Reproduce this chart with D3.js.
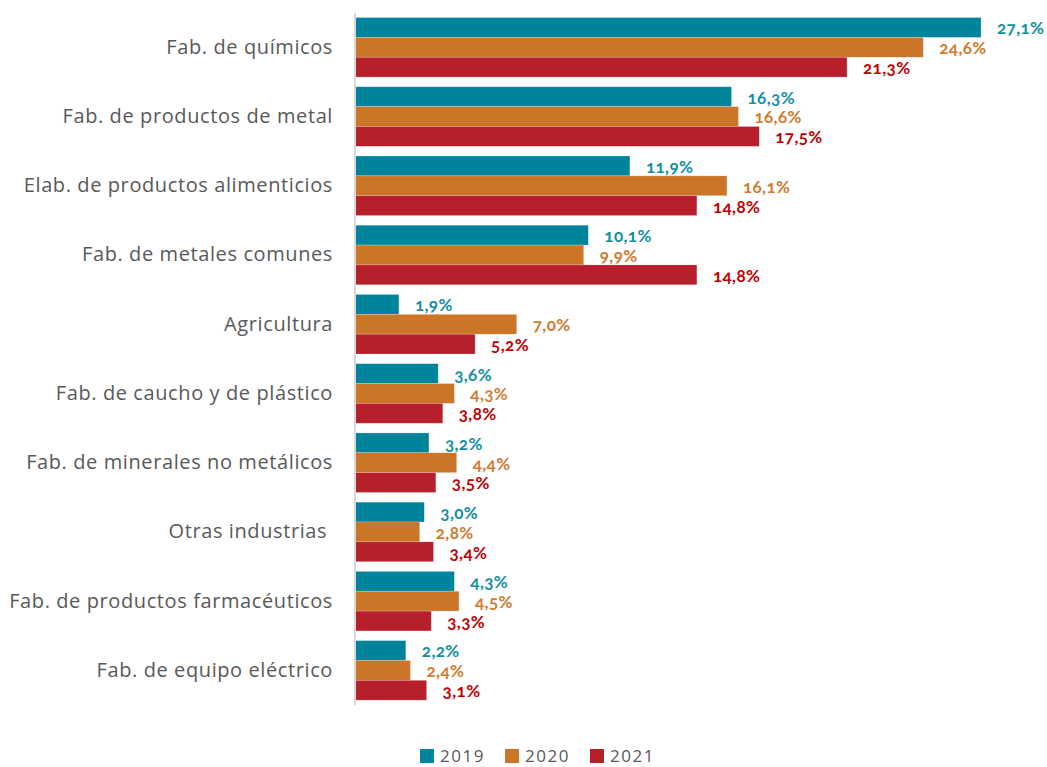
<!DOCTYPE html>
<html>
<head>
<meta charset="utf-8">
<script src="https://cdn.jsdelivr.net/npm/d3@7"></script>
<style>
  body { margin: 0; background: #fff; }
  svg { display: block; }
</style>
</head>
<body>
<svg width="1047" height="767"></svg>
<script>
// sectores, de arriba hacia abajo
var categories = [
  "Fab. de químicos",
  "Fab. de productos de metal",
  "Elab. de productos alimenticios",
  "Fab. de metales comunes",
  "Agricultura",
  "Fab. de caucho y de plástico",
  "Fab. de minerales no metálicos",
  "Otras industrias ",
  "Fab. de productos farmacéuticos",
  "Fab. de equipo eléctrico"
];
var years = ["2019", "2020", "2021"];
var v2019 = [27.1, 16.3, 11.9, 10.1, 1.9, 3.6, 3.2, 3.0, 4.3, 2.2];
var v2020 = [24.6, 16.6, 16.1, 9.9, 7.0, 4.3, 4.4, 2.8, 4.5, 2.4];
var v2021 = [21.3, 17.5, 14.8, 14.8, 5.2, 3.8, 3.5, 3.4, 3.3, 3.1];

var barColors = ["#00849b", "#cb7529", "#b71f2b"];
var labelColors = ["#118ea3", "#d07b2e", "#c00000"];

var svg = d3.select("svg"),
    width = +svg.attr("width"),
    height = +svg.attr("height");

var series = [v2019, v2020, v2021];

var x = d3.scaleLinear().domain([0, 30]).range([355, 355 + 693]);
var y = d3.scaleBand().domain(categories).range([12.7, 705])
    .paddingInner(0.14).paddingOuter(0.07);
var yInner = d3.scaleBand().domain(years).range([0, y.bandwidth()]);

var fmt = function(v) { return d3.format(".1f")(v).replace(".", ",") + "%"; };

// flatten into one list of bars
var bars = [];
categories.forEach(function(c, i) {
  years.forEach(function(yr, j) {
    bars.push({cat: c, year: yr, s: j, value: series[j][i]});
  });
});

var g = svg.append("g");

g.selectAll("rect.bar")
  .data(bars)
  .enter().append("rect")
    .attr("class", "bar")
    .attr("x", x(0))
    .attr("y", function(d) { return y(d.cat) + yInner(d.year); })
    .attr("width", function(d) { return x(d.value) - x(0); })
    .attr("height", yInner.bandwidth())
    .attr("fill", function(d) { return barColors[d.s]; })
    .attr("stroke", "#fff")
    .attr("stroke-opacity", 0.35)
    .attr("stroke-width", 0.6);

// valores
g.selectAll("text.val")
  .data(bars)
  .enter().append("text")
    .attr("class", "val")
    .attr("x", function(d) { return x(d.value) + 16; })
    .attr("y", function(d) { return y(d.cat) + yInner(d.year) + yInner.bandwidth() / 2 + 1; })
    .attr("dy", "0.35em")
    .attr("fill", function(d) { return labelColors[d.s]; })
    .style("font-family", "Lato, 'Open Sans', sans-serif")
    .style("font-weight", "bold")
    .style("font-size", "17px")
    .style("font-variant-numeric", "oldstyle-nums")
    .style("letter-spacing", "0.4px")
    .text(function(d) { return fmt(d.value); });

// eje vertical
var axis = d3.axisLeft(y).tickSize(0).tickPadding(22);
var ax = svg.append("g")
  .attr("transform", "translate(355,0)")
  .call(axis);
ax.select(".domain").attr("stroke", "#d9d9d9").attr("stroke-width", 2)
  .attr("d", "M0,12.7V705");
ax.selectAll("text")
  .attr("fill", "#595959")
  .style("font-family", "'Open Sans', sans-serif")
  .style("font-size", "20px")
  .style("letter-spacing", "0.6px")
  .style("white-space", "pre");

// leyenda
var legendX = [420, 505, 590];
var legend = svg.append("g").selectAll("g")
  .data(years)
  .enter().append("g")
    .attr("transform", function(d, i) { return "translate(" + legendX[i] + ",749)"; });
legend.append("rect")
  .attr("width", 14).attr("height", 14)
  .attr("fill", function(d, i) { return barColors[i]; });
legend.append("text")
  .attr("x", 20).attr("y", 13)
  .attr("fill", "#595959")
  .style("font-family", "'Open Sans', sans-serif")
  .style("font-size", "17px")
  .style("letter-spacing", "1.5px")
  .text(function(d) { return d; });
</script>
</body>
</html>
